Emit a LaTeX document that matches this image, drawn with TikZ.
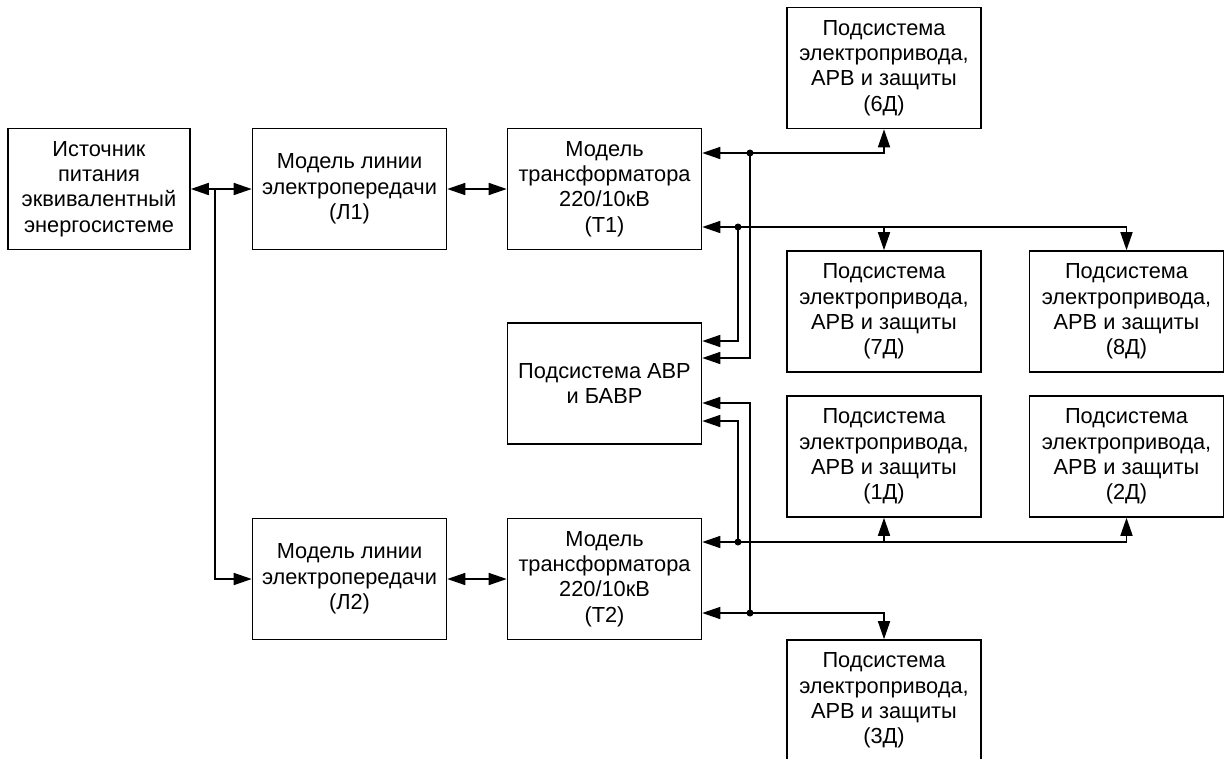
\documentclass[tikz,border=0pt]{standalone}
\usepackage{fontspec}
\setmainfont{Liberation Sans}
\usepackage{tikz}
\usetikzlibrary{arrows.meta}

\tikzset{
	blok/.style={draw, line width=0.9pt, minimum width=3.88cm, minimum height=2.42cm, inner sep=0pt, align=center, font=\fontsize{12.4}{14.4}\selectfont},
	pil/.style={line width=0.9pt, -{Triangle[length=0.36cm, width=0.24cm]}},
	dvepil/.style={line width=0.9pt, {Triangle[length=0.36cm, width=0.24cm]}-{Triangle[length=0.36cm, width=0.24cm]}}
}

\begin{document}
\begin{tikzpicture}[x=0.02cm, y=-0.02cm]
	\useasboundingbox (0,0) rectangle (1229,758);

	% bloki
	\node[blok, minimum width=3.64cm] (ist) at (99,189) {Источник\\питания\\эквивалентный\\энергосистеме};
	\node[blok] (l1) at (349.5,189) {Модель линии\\электропередачи\\(Л1)};
	\node[blok] (t1) at (604.5,189) {Модель\\трансформатора\\220/10кВ\\(Т1)};
	\node[blok] (avr) at (604.5,383.5) {Подсистема АВР\\и БАВР};
	\node[blok] (l2) at (349.5,579) {Модель линии\\электропередачи\\(Л2)};
	\node[blok] (t2) at (604.5,579) {Модель\\трансформатора\\220/10кВ\\(Т2)};
	\node[blok] (d6) at (884,68) {Подсистема\\электропривода,\\АРВ и защиты\\(6Д)};
	\node[blok] (d7) at (884,311.5) {Подсистема\\электропривода,\\АРВ и защиты\\(7Д)};
	\node[blok] (d8) at (1126.5,311.5) {Подсистема\\электропривода,\\АРВ и защиты\\(8Д)};
	\node[blok] (d1) at (884,456.5) {Подсистема\\электропривода,\\АРВ и защиты\\(1Д)};
	\node[blok] (d2) at (1126.5,456.5) {Подсистема\\электропривода,\\АРВ и защиты\\(2Д)};
	\node[blok] (d3) at (884,700.5) {Подсистема\\электропривода,\\АРВ и защиты\\(3Д)};

	% tochki vetvleniya
	\coordinate (r1) at (215,189);
	\coordinate (ja) at (750,153);
	\coordinate (jb) at (738,227);
	\coordinate (jc) at (738,542);
	\coordinate (jd) at (750,613);

	% levaya chast
	\draw[dvepil] (ist.east) -- (l1.west);
	\draw[pil] (r1) |- (l2.west);
	\draw[dvepil] (l1) -- (t1);
	\draw[dvepil] (l2) -- (t2);

	% T1
	\draw[pil] (ja) -- (ja -| t1.east);
	\draw[pil] (ja) -| (d6.south);
	\draw[pil] (ja) |- (avr.east |- 0,358);
	\draw[pil] (jb) -- (jb -| t1.east);
	\draw[pil] (jb) -| (d8.north);
	\draw[pil] (jb -| d7.north) -- (d7.north);
	\draw[pil] (jb) |- (avr.east |- 0,341);

	% T2
	\draw[pil] (jc) -- (jc -| t2.east);
	\draw[pil] (jc) -| (d2.south);
	\draw[pil] (jc -| d1.south) -- (d1.south);
	\draw[pil] (jc) |- (avr.east |- 0,421);
	\draw[pil] (jd) -- (jd -| t2.east);
	\draw[pil] (jd) -| (d3.north);
	\draw[pil] (jd) |- (avr.east |- 0,403);

	\foreach \t in {ja,jb,jc,jd}
		\fill (\t) circle (0.07cm);
\end{tikzpicture}
\end{document}
